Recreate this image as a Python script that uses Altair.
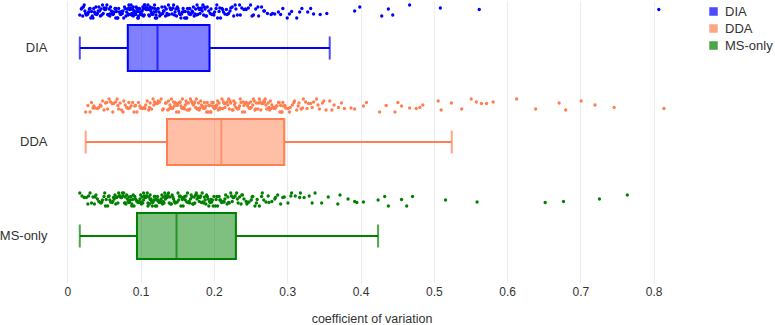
import altair as alt
import pandas as pd

# Coefficient of variation per protein, per acquisition method (in thousandths)
dia_cv_permille = [
    17, 19, 21, 22, 24, 25, 27, 28, 29, 31, 32, 33, 35, 36, 37, 38, 40, 41, 42, 43,
    45, 46, 47, 48, 50, 51, 52, 53, 54, 56, 57, 58, 59, 60, 61, 62, 63, 64, 65, 66,
    67, 68, 70, 71, 72, 73, 75, 76, 78, 80,
    82, 83, 84, 84, 85, 86, 87, 87, 88, 89, 90, 90, 91, 92, 93, 93, 94, 95, 96, 96,
    97, 98, 99, 100, 100, 101, 102, 103, 104, 104, 105, 106, 107, 108, 108, 109, 110,
    111, 112, 112, 113, 114, 115, 116, 117, 118, 119, 120, 121, 122,
    124, 125, 127, 128, 130, 131, 133, 134, 135, 137, 138, 140, 141, 142, 144, 145,
    146, 148, 149, 150, 152, 153, 154, 156, 157, 158, 160, 161, 162, 164, 165, 166,
    168, 169, 170, 172, 173, 175, 176, 177, 179, 180, 182, 183, 185, 186, 188, 189,
    191, 193,
    195, 197, 199, 201, 203, 205, 207, 209, 211, 213, 215, 218, 220, 222, 225, 227,
    230, 232, 235, 238, 241, 244, 247, 250, 254, 257, 261, 265, 269, 273, 278, 283,
    288, 294, 300, 306, 313, 320, 328, 336, 345, 354, 392, 399, 429, 438, 444, 467,
    509, 562, 807,
    # second pass over the dense part of the distribution
    20, 23, 26, 30, 34, 39, 44, 49, 55, 58, 62, 66, 69, 74, 77, 79, 81, 83, 86, 88,
    91, 94, 97, 99, 102, 105, 107, 110, 113, 116, 119, 121, 123, 126, 129, 132, 136,
    139, 143, 147, 151, 155, 159, 163, 167, 171, 174, 178, 181, 184, 187, 190, 196,
    200, 204, 208, 212, 217, 223, 229, 236, 243, 252, 260, 268, 280, 291, 303, 317,
    332,
]
dda_cv_permille = [
    25, 28, 31, 33, 36, 38, 41, 43, 45, 48, 50, 52, 55, 57, 59, 61, 63, 66, 68, 70,
    72, 74, 77, 79, 81, 83, 85, 87, 89, 91, 93, 95, 97, 99, 101, 103, 105, 107, 109,
    111, 113, 115, 117, 119, 121, 123, 126, 128, 131, 134,
    137, 138, 140, 141, 143, 144, 146, 147, 149, 150, 152, 153, 155, 156, 158, 159,
    161, 162, 164, 165, 167, 168, 170, 171, 173, 174, 176, 177, 179, 180, 182, 183,
    185, 186, 188, 189, 191, 192, 194, 195, 197, 198, 200, 201, 203, 204, 205, 206,
    207, 209,
    211, 213, 214, 216, 218, 220, 221, 223, 225, 227, 228, 230, 232, 234, 235, 237,
    239, 241, 242, 244, 246, 248, 249, 251, 253, 255, 256, 258, 260, 262, 263, 265,
    267, 269, 270, 272, 274, 276, 277, 279, 281, 283, 284, 286, 288, 290, 291, 293,
    294, 295,
    298, 301, 304, 307, 310, 313, 316, 319, 322, 325, 329, 332, 336, 340, 344, 348,
    353, 358, 364, 370, 378, 387, 404, 408, 426, 435, 447, 451, 456, 467, 476, 481,
    485, 506, 510, 524, 538, 551, 558, 565, 572, 581, 613, 639, 671, 680, 701, 720,
    746, 814,
    # second pass over the dense part of the distribution
    35, 46, 54, 62, 69, 76, 84, 92, 100, 106, 112, 118, 124, 130, 135, 139, 142, 145,
    148, 151, 154, 157, 160, 163, 166, 169, 172, 175, 178, 181, 184, 187, 190, 193,
    196, 199, 202, 208, 212, 215, 219, 222, 226, 229, 233, 236, 240, 243, 247, 250,
    254, 257, 261, 264, 268, 271, 275, 278, 282, 285, 289, 292, 297, 303, 309, 315,
    321, 327, 334, 342, 350, 361, 374, 392,
]
ms_only_cv_permille = [
    17, 20, 23, 26, 29, 31, 33, 35, 37, 39, 41, 43, 45, 47, 48, 50, 52, 53, 55, 56,
    58, 59, 61, 62, 64, 65, 66, 68, 69, 70, 72, 73, 74, 76, 77, 78, 79, 80, 81, 82,
    83, 84, 85, 86, 87, 88, 89, 91, 92, 94,
    96, 97, 98, 99, 100, 101, 102, 103, 104, 105, 106, 107, 108, 109, 110, 111, 112,
    113, 114, 115, 116, 117, 118, 119, 120, 121, 122, 123, 124, 125, 126, 127, 128,
    129, 130, 131, 132, 133, 134, 135, 136, 137, 138, 139, 140, 142, 143, 145, 146,
    148,
    150, 152, 153, 155, 157, 158, 160, 161, 163, 165, 166, 168, 169, 171, 173, 174,
    176, 178, 179, 181, 182, 184, 186, 187, 189, 190, 192, 194, 195, 197, 198, 200,
    202, 203, 205, 207, 208, 210, 211, 213, 215, 216, 218, 219, 221, 223, 224, 226,
    227, 229,
    231, 233, 235, 237, 239, 241, 244, 246, 248, 251, 253, 256, 259, 262, 265, 268,
    271, 275, 279, 283, 287, 291, 296, 301, 306, 311, 317, 323, 330, 338, 347, 356,
    369, 372, 383, 392, 395, 404, 424, 433, 438, 456, 463, 471, 516, 559, 652, 677,
    726, 764,
    # second pass over the dense part of the distribution
    28, 38, 46, 51, 57, 63, 67, 71, 75, 79, 84, 88, 90, 93, 95, 98, 101, 104, 107,
    110, 113, 116, 119, 122, 125, 128, 131, 134, 137, 141, 144, 147, 151, 154, 156,
    159, 162, 164, 167, 170, 172, 175, 177, 180, 183, 185, 188, 191, 193, 196, 199,
    204, 209, 214, 220, 225, 232, 238, 245, 252, 258, 266, 274, 284, 294, 305, 318,
    334,
]

# Box summaries: lower whisker, Q1, median, Q3, upper whisker
groups = ["DIA", "DDA", "MS-only"]
whisker_low = [0.017, 0.025, 0.017]
quartile_1 = [0.0825, 0.136, 0.095]
medians = [0.123, 0.210, 0.149]
quartile_3 = [0.194, 0.296, 0.230]
whisker_high = [0.358, 0.5245, 0.424]

colors = ["#0000ff", "#ff7f50", "#008000"]

points = pd.DataFrame(
    [("DIA", v / 1000) for v in dia_cv_permille]
    + [("DDA", v / 1000) for v in dda_cv_permille]
    + [("MS-only", v / 1000) for v in ms_only_cv_permille],
    columns=["group", "cv"],
)
boxes = pd.DataFrame(
    {
        "group": groups,
        "lo": whisker_low,
        "q1": quartile_1,
        "med": medians,
        "q3": quartile_3,
        "hi": whisker_high,
    }
)

color_scale = alt.Scale(domain=groups, range=colors)
color_enc = alt.Color("group:N", scale=color_scale, title=None)
x_scale = alt.Scale(domain=[-0.01, 0.84], nice=False, zero=False)
y_enc = alt.Y(
    "group:N",
    sort=groups,
    scale=alt.Scale(paddingInner=0, paddingOuter=0),
    axis=alt.Axis(
        title=None, ticks=False, domain=False, grid=False,
        labelPadding=13, labelFontSize=13,
    ),
)
x_axis = alt.Axis(
    title="coefficient of variation",
    values=[0, 0.1, 0.2, 0.3, 0.4, 0.5, 0.6, 0.7, 0.8],
    format="~g",
    ticks=False,
    domain=False,
    grid=True,
    labelPadding=3,
    labelFontSize=12,
    titleFontSize=12.5,
    titleFontWeight="normal",
    titlePadding=15,
)

base = alt.Chart(boxes)

# Interquartile box (its legend entry doubles as the chart legend)
box = base.mark_bar(size=46, fillOpacity=0.5, strokeWidth=2).encode(
    x=alt.X("q1:Q", scale=x_scale, axis=x_axis),
    x2="q3:Q",
    y=y_enc,
    color=color_enc,
    stroke=alt.Stroke("group:N", scale=color_scale, title=None),
)
whisker_left = base.mark_rule(strokeWidth=2).encode(
    x="lo:Q", x2="q1:Q", y=y_enc, color=color_enc,
)
whisker_right = base.mark_rule(strokeWidth=2).encode(
    x="q3:Q", x2="hi:Q", y=y_enc, color=color_enc,
)
median = base.mark_tick(size=46, thickness=2, orient="vertical").encode(
    x="med:Q", y=y_enc, color=color_enc,
)
cap_low = base.mark_tick(size=23, thickness=2, orient="vertical").encode(
    x="lo:Q", y=y_enc, color=color_enc,
)
cap_high = base.mark_tick(size=23, thickness=2, orient="vertical").encode(
    x="hi:Q", y=y_enc, color=color_enc,
)

# Jittered strip of all observations above each box
strip = (
    alt.Chart(points)
    .transform_window(rn="row_number()")
    .transform_calculate(jit="4 + ((datum.rn * datum.rn * 13 + datum.rn * 7) % 29) / 2")
    .mark_circle(size=11, opacity=1)
    .encode(
        x="cv:Q",
        y=y_enc,
        yOffset=alt.YOffset("jit:Q", scale=None),
        color=color_enc,
    )
)

chart = (
    alt.layer(box, whisker_left, whisker_right, median, cap_low, cap_high, strip)
    .properties(
        width=623,
        height=282,
        autosize=alt.AutoSizeParams(type="none"),
        padding={"left": 60, "top": 1, "right": 92, "bottom": 42},
    )
    .configure(font="Liberation Sans")
    .configure_view(stroke=None)
    .configure_axis(
        labelColor="#333333", titleColor="#333333",
        gridColor="#e9edf3", gridWidth=1, labelFont="Liberation Sans",
    )
    .configure_legend(
        orient="none", legendX=647, legendY=4,
        symbolType="square", symbolSize=42, symbolStrokeWidth=2,
        labelFontSize=13, labelOffset=5, labelColor="#333333", rowPadding=2,
    )
)

chart.save("out.html", embed_options={"renderer": "svg", "actions": False})
